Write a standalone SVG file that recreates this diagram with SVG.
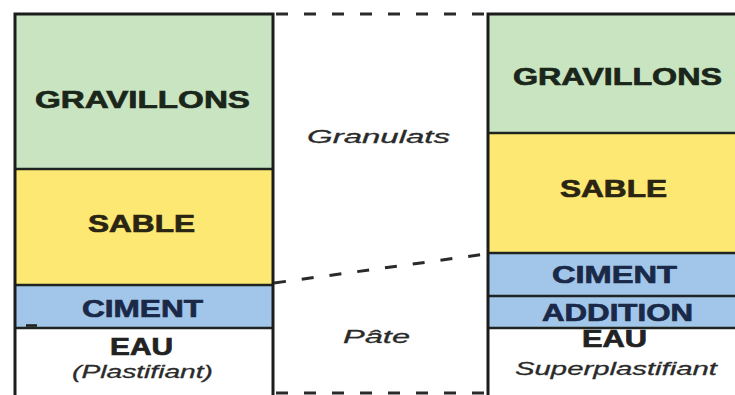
<svg xmlns="http://www.w3.org/2000/svg" width="735" height="395" viewBox="0 0 735 395">
  <style>
    .grav { fill: #c9e4c1; }
    .sable { fill: #fce872; }
    .ciment { fill: #a2c6e9; }
    .eau { fill: #ffffff; }
    .edge { stroke: #1c1c1c; stroke-width: 3; fill: none; }
    .sep { stroke: #1f2420; stroke-width: 2.5; fill: none; }
    .dash { stroke: #2a2a2a; stroke-width: 3; fill: none; stroke-dasharray: 12 16; }
    .lbl { font-family: "Liberation Sans", Arial, sans-serif; font-weight: bold; font-size: 24px; text-anchor: middle; stroke-width: 0.7; }
    .dark-green { fill: #1b261b; stroke: #1b261b; }
    .dark-yellow { fill: #2a2412; stroke: #2a2412; }
    .dark-blue { fill: #1a2947; stroke: #1a2947; }
    .dark { fill: #222222; stroke: #222222; }
    .ital { font-family: "Liberation Sans", Arial, sans-serif; font-style: italic; font-size: 19px; text-anchor: middle; fill: #2a2a2a; stroke: #2a2a2a; stroke-width: 0.3; }
  </style>

  <rect width="735" height="395" fill="#ffffff"/>

  <!-- Left column: ordinary concrete -->
  <g id="left-column">
    <rect class="grav" x="15" y="14" width="258" height="155"/>
    <rect class="sable" x="15" y="169" width="258" height="116"/>
    <rect class="ciment" x="15" y="285" width="258" height="43"/>
    <rect class="eau" x="15" y="328" width="258" height="67"/>
    <line class="sep" x1="15" y1="169" x2="273" y2="169"/>
    <line class="sep" x1="15" y1="285" x2="273" y2="285"/>
    <line class="sep" x1="15" y1="328" x2="273" y2="328"/>
    <line x1="26" y1="325.5" x2="37" y2="325.5" stroke="#1c1c1c" stroke-width="2.5"/>
    <path class="edge" d="M15,395 V14 H273 V395"/>
  </g>

  <g id="left-gravillons"><text class="lbl dark-green" x="142.5" y="108" textLength="215" lengthAdjust="spacingAndGlyphs">GRAVILLONS</text></g>
  <g id="left-sable"><text class="lbl dark-yellow" x="141.5" y="232" textLength="107" lengthAdjust="spacingAndGlyphs">SABLE</text></g>
  <g id="left-ciment"><text class="lbl dark-blue" x="142.5" y="317" textLength="121" lengthAdjust="spacingAndGlyphs">CIMENT</text></g>
  <g id="left-eau">
    <text class="lbl dark" x="141.5" y="355" font-size="21" textLength="63" lengthAdjust="spacingAndGlyphs">EAU</text>
    <text class="ital" x="142.5" y="378" textLength="141" lengthAdjust="spacingAndGlyphs">(Plastifiant)</text>
  </g>

  <!-- Right column: self-compacting concrete -->
  <g id="right-column">
    <rect class="grav" x="488" y="14" width="250" height="119"/>
    <rect class="sable" x="488" y="133" width="250" height="120"/>
    <rect class="ciment" x="488" y="253" width="250" height="43"/>
    <rect class="ciment" x="488" y="296" width="250" height="32"/>
    <rect class="eau" x="488" y="328" width="250" height="67"/>
    <line class="sep" x1="488" y1="133" x2="735" y2="133"/>
    <line class="sep" x1="488" y1="253" x2="735" y2="253"/>
    <line class="sep" x1="488" y1="296" x2="735" y2="296"/>
    <line class="sep" x1="488" y1="328" x2="735" y2="328"/>
    <path class="edge" d="M488,395 V14 H736"/>
  </g>

  <g id="right-gravillons"><text class="lbl dark-green" x="617.5" y="85" textLength="209" lengthAdjust="spacingAndGlyphs">GRAVILLONS</text></g>
  <g id="right-sable"><text class="lbl dark-yellow" x="613.5" y="197" textLength="107" lengthAdjust="spacingAndGlyphs">SABLE</text></g>
  <g id="right-ciment"><text class="lbl dark-blue" x="614.5" y="283" textLength="125" lengthAdjust="spacingAndGlyphs">CIMENT</text></g>
  <g id="right-addition"><text class="lbl dark-blue" x="617.5" y="321" textLength="151" lengthAdjust="spacingAndGlyphs">ADDITION</text></g>
  <g id="right-eau">
    <text class="lbl dark" x="614.5" y="347" font-size="21" textLength="65" lengthAdjust="spacingAndGlyphs">EAU</text>
    <text class="ital" x="616" y="375" textLength="202" lengthAdjust="spacingAndGlyphs">Superplastifiant</text>
  </g>

  <!-- Dashed limits between the columns -->
  <g id="connectors">
    <line class="dash" x1="276" y1="14" x2="488" y2="14"/>
    <line class="dash" x1="276" y1="393" x2="488" y2="393"/>
    <line class="dash" x1="274" y1="283" x2="486" y2="254" stroke-dasharray="15 12"/>
  </g>

  <g id="granulats"><text class="ital" x="378.5" y="143" font-size="21" textLength="143" lengthAdjust="spacingAndGlyphs">Granulats</text></g>
  <g id="pate"><text class="ital" x="376.5" y="343" font-size="21" textLength="67" lengthAdjust="spacingAndGlyphs">Pâte</text></g>
</svg>
